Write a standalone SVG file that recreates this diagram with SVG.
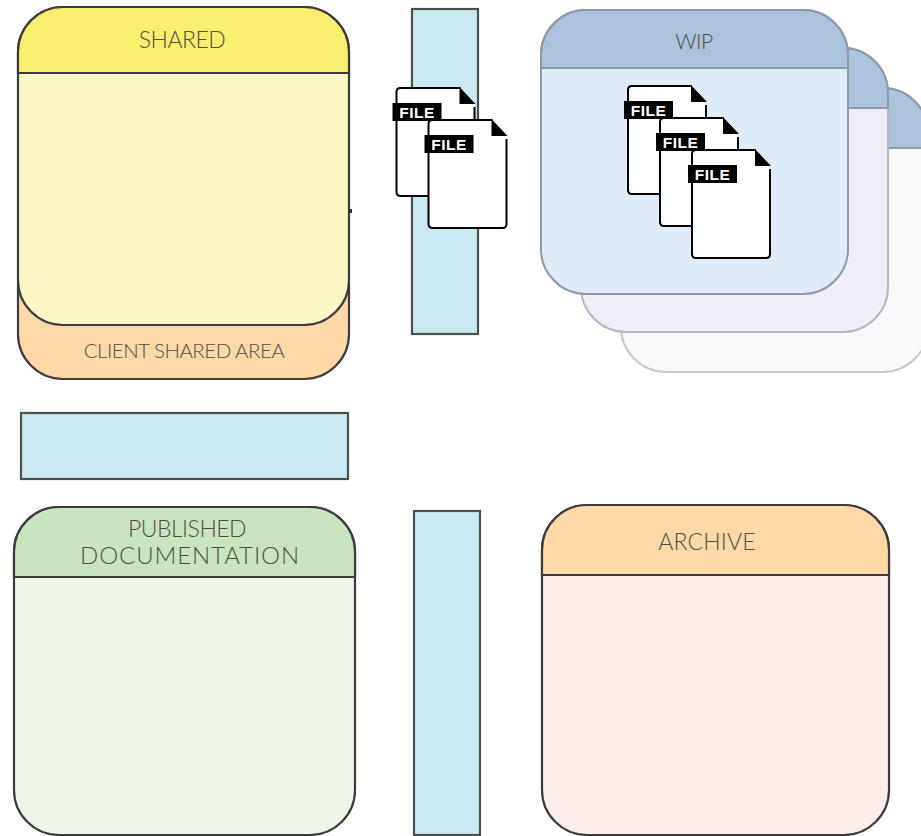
<svg xmlns="http://www.w3.org/2000/svg" width="921" height="836" viewBox="0 0 921 836">
<style>
.o{stroke:#3c3c3c;stroke-width:2.2}
.w{stroke:#8f98a6;stroke-width:2}
.w2{stroke:#b6b7be;stroke-width:2}
.w3{stroke:#c8c8cd;stroke-width:2}
.bar{fill:#cbe9f1;stroke:#4a4f50;stroke-width:2.2}
.t{font-family:Lato,"Open Sans",sans-serif;font-weight:300;fill:#4f4f45;text-anchor:middle;font-size:23px;letter-spacing:-.5px}
.s{fill:#fff}
.f{fill:none;stroke:#000;stroke-width:2;stroke-linejoin:round}
.c{fill:#000}
.ft{font-family:"Liberation Sans",Arial,sans-serif;font-weight:700;font-size:15.5px;fill:#fff;text-anchor:middle;letter-spacing:.5px}
</style>
<defs>
<g id="file">
<path class="s" d="M4 0H64L78 16V104Q78 108 74 108H4Q0 108 0 104V4Q0 0 4 0Z"/>
<path class="f" d="M64 0H4Q0 0 0 4V104Q0 108 4 108H74Q78 108 78 104V19"/>
<path class="c" d="M63 -1L79 16H63Z"/>
<rect class="c" x="-4" y="15" width="49" height="18"/>
<text class="ft" x="20.5" y="30">FILE</text>
</g>
</defs>

<g id="wip-3">
<path fill="#f9f9fb" class="w3" d="M621 133A45 45 0 0 1 666 88H883A45 45 0 0 1 928 133V327A45 45 0 0 1 883 372H666A45 45 0 0 1 621 327Z"/>
<path fill="#adc2db" class="w" d="M621 148V133A45 45 0 0 1 666 88H883A45 45 0 0 1 928 133V148Z"/>
</g>
<g id="wip-2">
<path fill="#f0eff8" class="w2" d="M581 93A45 45 0 0 1 626 48H843A45 45 0 0 1 888 93V287A45 45 0 0 1 843 332H626A45 45 0 0 1 581 287Z"/>
<path fill="#adc2db" class="w" d="M581 108V93A45 45 0 0 1 626 48H843A45 45 0 0 1 888 93V108Z"/>
</g>
<g id="wip">
<path fill="#dfebf7" class="w" d="M541 55A45 45 0 0 1 586 10H803A45 45 0 0 1 848 55V249A45 45 0 0 1 803 294H586A45 45 0 0 1 541 249Z"/>
<path fill="#adc2db" class="w" d="M541 68V55A45 45 0 0 1 586 10H803A45 45 0 0 1 848 55V68Z"/>
<text class="t" x="694" y="49" style="font-size:21px">WIP</text>
</g>

<g id="client-shared-area">
<path fill="#fed9a6" class="o" d="M18 285H349V334A45 45 0 0 1 304 379H63A45 45 0 0 1 18 334Z"/>
<text class="t" x="184" y="358" style="font-size:20.5px">CLIENT SHARED AREA</text>
</g>
<g id="shared">
<path fill="#fbf6c5" class="o" d="M18 52A45 45 0 0 1 63 7H304A45 45 0 0 1 349 52V280A45 45 0 0 1 304 325H63A45 45 0 0 1 18 280Z"/>
<path fill="#f8ef6e" class="o" d="M18 73V52A45 45 0 0 1 63 7H304A45 45 0 0 1 349 52V73Z"/>
<text class="t" x="182" y="48">SHARED</text>
<rect x="348" y="209" width="4" height="4" fill="#333"/>
</g>

<g id="bar-top"><rect class="bar" x="412" y="9" width="66" height="325"/></g>
<g id="bar-left"><rect class="bar" x="21" y="413" width="327" height="66"/></g>
<g id="bar-bottom"><rect class="bar" x="414" y="511" width="66" height="324"/></g>

<g id="published">
<path fill="#eef6ea" class="o" d="M14 552A45 45 0 0 1 59 507H310A45 45 0 0 1 355 552V790A45 45 0 0 1 310 835H59A45 45 0 0 1 14 790Z"/>
<path fill="#cae4bf" class="o" d="M14 577V552A45 45 0 0 1 59 507H310A45 45 0 0 1 355 552V577Z"/>
<text class="t" x="187" y="537">PUBLISHED</text>
<text class="t" x="190" y="564" style="letter-spacing:.9px;font-size:24px">DOCUMENTATION</text>
</g>
<g id="archive">
<path fill="#fdeeeb" class="o" d="M542 550A45 45 0 0 1 587 505H844A45 45 0 0 1 889 550V790A45 45 0 0 1 844 835H587A45 45 0 0 1 542 790Z"/>
<path fill="#fed9a6" class="o" d="M542 575V550A45 45 0 0 1 587 505H844A45 45 0 0 1 889 550V575Z"/>
<text class="t" x="707" y="550" style="letter-spacing:.2px">ARCHIVE</text>
</g>

<g id="file-1"><use href="#file" x="396.5" y="88"/></g>
<g id="file-2"><use href="#file" x="428.5" y="120"/></g>
<g id="file-3"><use href="#file" x="628" y="86"/></g>
<g id="file-4"><use href="#file" x="660" y="118"/></g>
<g id="file-5"><use href="#file" x="692" y="150"/></g>
<g id="connectors"></g>
</svg>
